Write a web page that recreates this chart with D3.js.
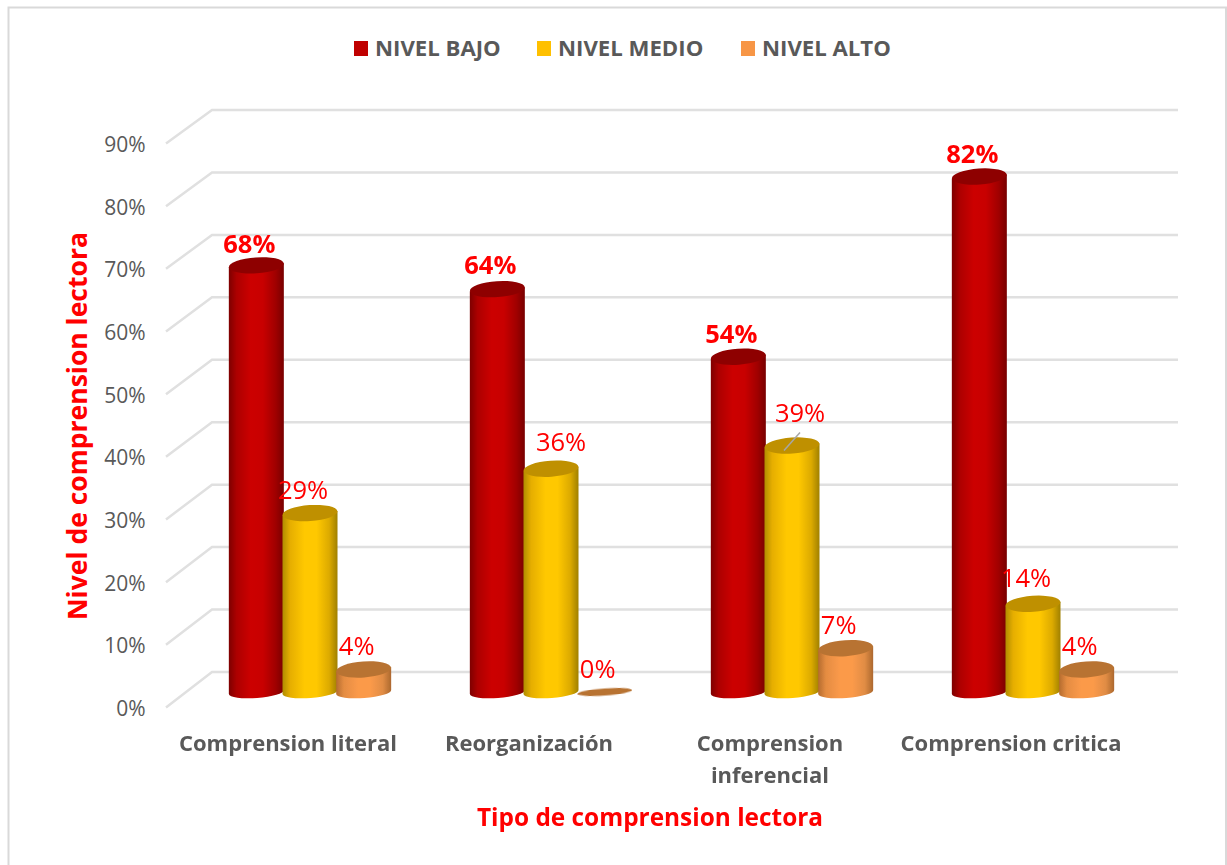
<!DOCTYPE html>
<html><head><meta charset="utf-8">
<script src="https://cdn.jsdelivr.net/npm/d3@7"></script>
<style>html,body{margin:0;padding:0;background:#fff;overflow:hidden}svg{display:block}text{font-family:"Open Sans",sans-serif}</style>
</head><body><div id="chart"></div>
<script>
const categories = ["Comprension literal","Reorganización","Comprension inferencial","Comprension critica"];
const seriesNames = ["NIVEL BAJO","NIVEL MEDIO","NIVEL ALTO"];
const nivelBajo = [68.2,64.4,53.6,82.4];
const nivelMedio = [28.6,35.7,39.4,14.1];
const nivelAlto = [3.6,0,7,3.6];
const yTicks = [0,10,20,30,40,50,60,70,80,90];
const seriesValues = [nivelBajo,nivelMedio,nivelAlto];

const W=1227,H=865;
const svg=d3.select("#chart").append("svg").attr("width",W).attr("height",H);
const defs=svg.append("defs");
const palette=[
 {swatch:"#c00000",stops:["#7e0000","#ac0000","#cc0000","#c80000","#a00000","#780000"],top:"#8e0000"},
 {swatch:"#ffc000",stops:["#b08c00","#e6ae00","#ffc800","#ffc800","#dcaa00","#a08000"],top:"#bf9000"},
 {swatch:"#f79646",stops:["#b56c2e","#e48c42","#fb9a4a","#fb9a4a","#e08c44","#ac682e"],top:"#b87333"}];
const off=[0,.14,.4,.62,.85,1];
palette.forEach((p,i)=>{
  const g=defs.append("linearGradient").attr("id","g"+i);
  p.stops.forEach((c,j)=>g.append("stop").attr("offset",off[j]).attr("stop-color",c));
});
const sh=defs.append("filter").attr("id","soft");
sh.append("feGaussianBlur").attr("stdDeviation",0.6);

// frame: top and both sides, open at the bottom
svg.append("path").attr("d","M8.5,870V7.5H1226V870").attr("fill","none").attr("stroke","#d9d9d9").attr("stroke-width",2);

// scales
const yFront=d3.scaleLinear().domain([0,90]).range([707,143]);
const yBack=d3.scaleLinear().domain([0,90]).range([672,110]);
const yBar=d3.scaleLinear().domain([0,90]).range([692,129]);
const x0=d3.scaleBand().domain(categories).range([189.5,1153.5]);
const x1=d3.scaleBand().domain(seriesNames).range([-80.5,80.5]);
const barCx=(c,s)=>x0(c)+x0.bandwidth()/2+x1(s)+x1.bandwidth()/2;
const rx=27.5, ry=8, tilt=-4;

// grid
const grid=svg.append("g").attr("fill","none").attr("stroke","#e0e0e0").attr("stroke-width",2.5);
yTicks.forEach(t=>{
  grid.append("polyline").attr("points",[[166,yFront(t)+.5],[212,yBack(t)],[1178,yBack(t)]].join(" "));
});

// y axis
const yAxis=d3.axisLeft(yFront).tickValues(yTicks).tickFormat(d=>d+"%").tickSize(0).tickPadding(0);
const ya=svg.append("g").attr("transform","translate(145.5,0)").call(yAxis);
ya.select(".domain").remove();
ya.selectAll("text").attr("fill","#595959").style("font-size","21px").style("font-family",'"Open Sans",sans-serif').attr("dy","0.4em");

// bars
const bars=svg.append("g").attr("filter","url(#soft)");
function cylinder(cx,yt,i){
  const yb=692;
  const g=bars.append("g");
  if(yb-yt>1){
    g.append("path").attr("fill",`url(#g${i})`)
     .attr("d",`M${cx-rx},${yt+2}L${cx+rx},${yt-2}L${cx+rx},${yb-2}A${rx},${ry-2} ${tilt} 0 1 ${cx-rx},${yb+2}Z`);
  }
  g.append("ellipse").attr("cx",cx).attr("cy",yt).attr("rx",rx).attr("ry",yb-yt>1?ry:3.5)
    .attr("transform",`rotate(${tilt} ${cx} ${yt})`).attr("fill",palette[i].top);
}
categories.forEach((c,k)=>seriesNames.forEach((s,i)=>{
  cylinder(barCx(c,s),yBar(seriesValues[i][k]),i);
}));

// data labels
const labels=svg.append("g").attr("text-anchor","middle").attr("fill","#ff0000").style("font-size","25.5px");
const nudge={"0-0":[0,2],"1-0":[0,-1],"1-1":[17,-4],"2-1":[15,-10],"3-1":[0,-3]};
categories.forEach((c,k)=>seriesNames.forEach((s,i)=>{
  const v=seriesValues[i][k], n=nudge[k+"-"+i]||[0,0];
  labels.append("text").attr("x",barCx(c,s)-7+n[0]).attr("y",yBar(v)-14+n[1])
    .attr("font-weight",i===0?700:400).text(Math.round(v)+"%");
}));
// leader line of the 39% label
const lc=barCx(categories[2],seriesNames[1]), lv=yBar(nivelMedio[2]);
svg.append("line").attr("x1",lc-8).attr("y1",lv+5).attr("x2",lc+8).attr("y2",lv-13)
  .attr("stroke","#a6a6a6").attr("stroke-width",1.5);

// category labels
const catG=svg.append("g").attr("text-anchor","middle").attr("fill","#595959").attr("font-weight",700).style("font-size","22px");
const catLines={"Comprension inferencial":["Comprension","inferencial"]};
categories.forEach(c=>{
  const t=catG.append("text").attr("x",x0(c)+x0.bandwidth()/2-22).attr("y",751);
  (catLines[c]||[c]).forEach((l,j)=>t.append("tspan").attr("x",x0(c)+x0.bandwidth()/2-22).attr("dy",j?32:0).text(l));
});

// axis titles
svg.append("text").attr("x",650).attr("y",826).attr("text-anchor","middle").attr("fill","#ff0000")
  .attr("font-weight",700).style("font-size","24.4px").text("Tipo de comprension lectora");
svg.append("text").attr("transform","translate(87,426) rotate(-90)").attr("text-anchor","middle").attr("fill","#ff0000")
  .attr("font-weight",700).style("font-size","26.5px").text("Nivel de comprension lectora");

// legend
const legendX=d3.scaleOrdinal().domain(seriesNames).range([354,537,741]);
const lg=svg.append("g");
seriesNames.forEach((s,i)=>{
  lg.append("rect").attr("x",legendX(s)).attr("y",41).attr("width",14).attr("height",15).attr("fill",palette[i].swatch);
  lg.append("text").attr("x",legendX(s)+21).attr("y",56).attr("fill","#595959").attr("font-weight",700).style("font-size","22.2px").text(s);
});
</script></body></html>
